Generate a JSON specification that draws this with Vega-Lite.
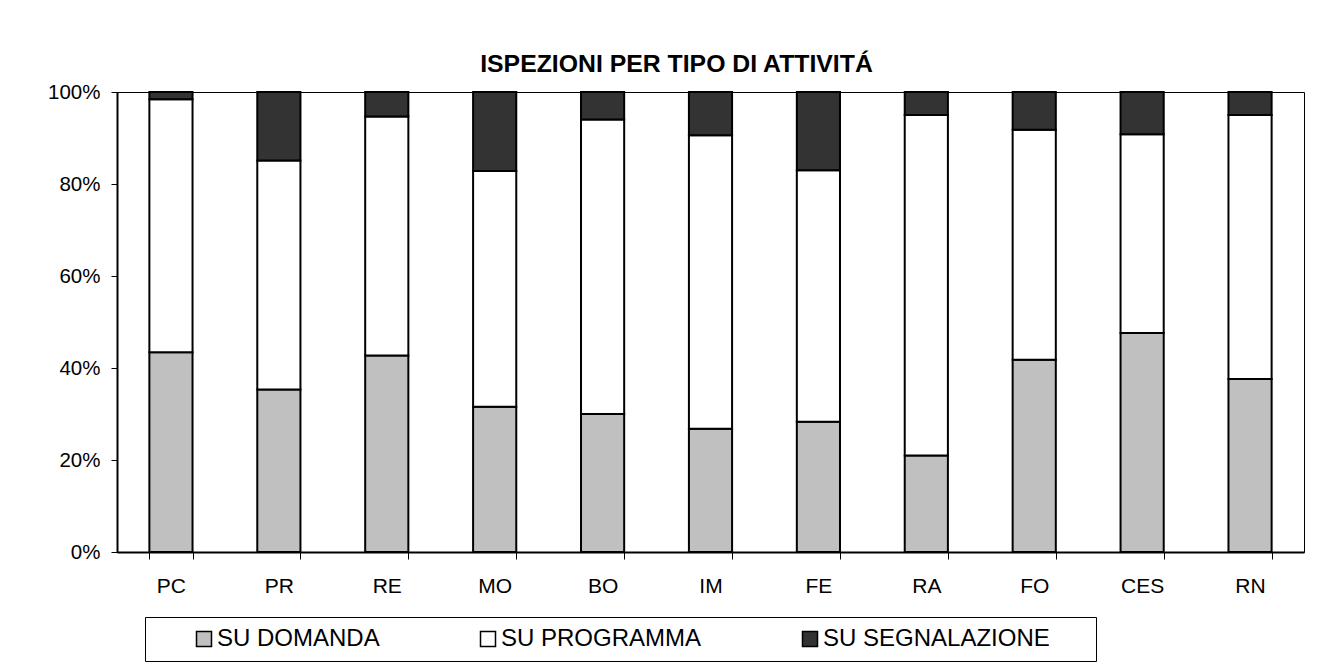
{
  "$schema": "https://vega.github.io/schema/vega-lite/v6.json",
  "width": 1187,
  "height": 460,
  "autosize": {"type": "none"},
  "padding": {"left": 117, "top": 92, "right": 26, "bottom": 111},
  "background": "#ffffff",
  "title": {
    "text": "ISPEZIONI PER TIPO DI ATTIVITÁ",
    "font": "Liberation Sans",
    "fontSize": 24.8,
    "fontWeight": "bold",
    "color": "#000000",
    "anchor": "middle",
    "baseline": "alphabetic",
    "offset": 19,
    "dx": -34,
    "dy": 34
  },
  "data": {
    "values": [
      {"zona": "PC", "tipo": "SU DOMANDA", "quota": 43.4},
      {"zona": "PC", "tipo": "SU PROGRAMMA", "quota": 55.0},
      {"zona": "PC", "tipo": "SU SEGNALAZIONE", "quota": 1.6},
      {"zona": "PR", "tipo": "SU DOMANDA", "quota": 35.3},
      {"zona": "PR", "tipo": "SU PROGRAMMA", "quota": 49.8},
      {"zona": "PR", "tipo": "SU SEGNALAZIONE", "quota": 14.9},
      {"zona": "RE", "tipo": "SU DOMANDA", "quota": 42.7},
      {"zona": "RE", "tipo": "SU PROGRAMMA", "quota": 52.0},
      {"zona": "RE", "tipo": "SU SEGNALAZIONE", "quota": 5.3},
      {"zona": "MO", "tipo": "SU DOMANDA", "quota": 31.6},
      {"zona": "MO", "tipo": "SU PROGRAMMA", "quota": 51.2},
      {"zona": "MO", "tipo": "SU SEGNALAZIONE", "quota": 17.2},
      {"zona": "BO", "tipo": "SU DOMANDA", "quota": 30.0},
      {"zona": "BO", "tipo": "SU PROGRAMMA", "quota": 64.0},
      {"zona": "BO", "tipo": "SU SEGNALAZIONE", "quota": 6.0},
      {"zona": "IM", "tipo": "SU DOMANDA", "quota": 26.8},
      {"zona": "IM", "tipo": "SU PROGRAMMA", "quota": 63.8},
      {"zona": "IM", "tipo": "SU SEGNALAZIONE", "quota": 9.4},
      {"zona": "FE", "tipo": "SU DOMANDA", "quota": 28.3},
      {"zona": "FE", "tipo": "SU PROGRAMMA", "quota": 54.7},
      {"zona": "FE", "tipo": "SU SEGNALAZIONE", "quota": 17.0},
      {"zona": "RA", "tipo": "SU DOMANDA", "quota": 21.0},
      {"zona": "RA", "tipo": "SU PROGRAMMA", "quota": 74.0},
      {"zona": "RA", "tipo": "SU SEGNALAZIONE", "quota": 5.0},
      {"zona": "FO", "tipo": "SU DOMANDA", "quota": 41.8},
      {"zona": "FO", "tipo": "SU PROGRAMMA", "quota": 50.0},
      {"zona": "FO", "tipo": "SU SEGNALAZIONE", "quota": 8.2},
      {"zona": "CES", "tipo": "SU DOMANDA", "quota": 47.6},
      {"zona": "CES", "tipo": "SU PROGRAMMA", "quota": 43.2},
      {"zona": "CES", "tipo": "SU SEGNALAZIONE", "quota": 9.2},
      {"zona": "RN", "tipo": "SU DOMANDA", "quota": 37.6},
      {"zona": "RN", "tipo": "SU PROGRAMMA", "quota": 57.4},
      {"zona": "RN", "tipo": "SU SEGNALAZIONE", "quota": 5.0}
    ]
  },
  "mark": {"type": "bar", "stroke": "#000000", "strokeWidth": 2, "strokeJoin": "miter"},
  "encoding": {
    "x": {
      "field": "zona",
      "type": "nominal",
      "sort": null,
      "scale": {"paddingInner": 0.6, "paddingOuter": 0.3},
      "axis": {
        "title": null,
        "labelAngle": 0,
        "labelFont": "Liberation Sans",
        "labelFontSize": 21,
        "labelColor": "#000000",
        "labelBaseline": "alphabetic",
        "labelPadding": 33.5,
        "tickBand": "extent",
        "tickSize": 7,
        "tickColor": "#000000",
        "tickWidth": 1,
        "domainColor": "#000000",
        "domainWidth": 2,
        "grid": false
      }
    },
    "y": {
      "field": "quota",
      "type": "quantitative",
      "stack": "normalize",
      "scale": {"domain": [0, 1], "nice": false},
      "axis": {
        "title": null,
        "values": [0, 0.2, 0.4, 0.6, 0.8, 1],
        "format": ".0%",
        "labelFont": "Liberation Sans",
        "labelFontSize": 20.5,
        "labelColor": "#000000",
        "labelPadding": 11,
        "tickSize": 6,
        "tickColor": "#000000",
        "tickWidth": 1,
        "domainColor": "#000000",
        "domainWidth": 2,
        "grid": false
      }
    },
    "order": {"field": "tipo", "type": "nominal", "sort": "ascending"},
    "color": {
      "field": "tipo",
      "type": "nominal",
      "scale": {
        "domain": ["SU DOMANDA", "SU PROGRAMMA", "SU SEGNALAZIONE"],
        "range": ["#c0c0c0", "#ffffff", "#333333"]
      },
      "legend": {
        "orient": "none",
        "legendX": 28,
        "legendY": 525,
        "direction": "horizontal",
        "title": " ",
        "titleOrient": "left",
        "titleFontSize": 1,
        "titlePadding": 37,
        "padding": 10,
        "strokeColor": "#000000",
        "fillColor": "#ffffff",
        "symbolType": "square",
        "symbolSize": 225,
        "symbolStrokeColor": "#000000",
        "symbolStrokeWidth": 1.5,
        "symbolOpacity": 1,
        "labelFont": "Liberation Sans",
        "labelFontSize": 24,
        "labelColor": "#000000",
        "labelOffset": 1,
        "labelLimit": 0,
        "columnPadding": 96,
        "labelExpr": "datum.label == 'SU SEGNALAZIONE' ? datum.label + '\u2800\u2800' : datum.label"
      }
    }
  },
  "config": {
    "view": {"stroke": "#000000", "strokeWidth": 1},
    "font": "Liberation Sans"
  }
}
